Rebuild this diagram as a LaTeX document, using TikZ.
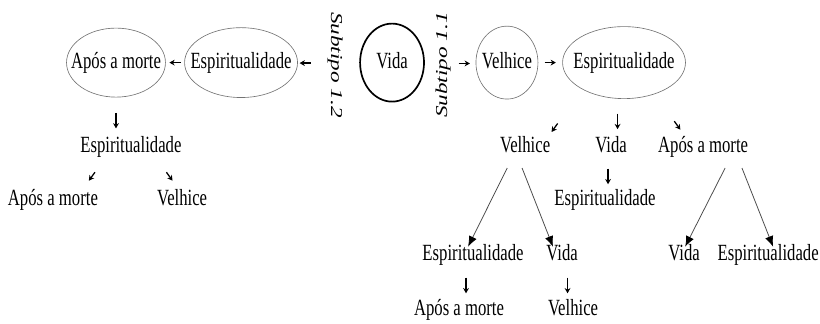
\documentclass[tikz,border=0pt]{standalone}
\usepackage{fontspec}
\setmainfont{Liberation Serif}
\usepackage{tikz}
\usetikzlibrary{shapes,arrows,arrows.meta,calc}
\tikzstyle{tsText} = [ 
    text=black, 
    font=\fontsize{22}{26}\selectfont,
    inner sep=1pt,
    text height=0.7em,
    text depth=0.22em
]
\tikzstyle{tsOval} = [ 
    ellipse,
    tsText,
    draw=black!55,
    line width=0.6pt,
    inner sep=0pt,
    text height=1.25em,
    text depth=0.2em
]
\tikzstyle{tsOvalBold} = [ 
    tsOval,
    draw=black,
    line width=1.6pt
]
\tikzstyle{tsSubtype} = [ 
    text=black, 
    font=\fontsize{22}{26}\selectfont\itshape
]
\tikzstyle{tsTick} = [ 
    -{Stealth[length=5pt,width=5.5pt]},
    line width=1.2pt
]
\tikzstyle{tsLong} = [ 
    -{Latex[length=10pt,width=8pt,black]},
    draw=black!70,
    line width=0.75pt
]
\newcommand{\inoval}[1]{\makebox[0pt]{#1}}
\newcommand{\tick}[3][0.26]{\draw[tsTick] (#2) ++(#3+180:#1) -- ++(#3:2*#1);}

\begin{document}
\begin{tikzpicture}[xscale=0.72, transform shape]

    \useasboundingbox (0,0) rectangle (37.963,10.767);

    % top row
    \node[  tsOval, 
            minimum width=4.58cm,
            minimum height=2.3cm] (apos) at (5.37,8.68) {\inoval{Após a morte}};
    \node[  tsOval, 
            minimum width=5.23cm,
            minimum height=2.33cm] (espL) at (11.16,8.68) {\inoval{Espiritualidade}};
    \node[tsSubtype, rotate=-90] (sub12) at (15.51,8.6) {Subtipo 1.2};
    \node[  tsOvalBold, 
            minimum width=2.96cm,
            minimum height=2.6cm] (vida) at (18.15,8.68) {\inoval{Vida}};
    \node[tsSubtype, rotate=90] (sub11) at (20.51,8.6) {Subtipo 1.1};
    \node[  tsOval, 
            minimum width=2.87cm,
            minimum height=2.43cm] (velL) at (23.47,8.68) {\inoval{Velhice}};
    \node[  tsOval, 
            minimum width=5.69cm,
            minimum height=2.4cm] (espR) at (28.89,8.68) {\inoval{Espiritualidade}};

    \tick{$(espL.west)!.5!(apos.east)$}{180}
    \tick{$(espL.east)!.2!(sub12)$}{180}
    \tick{$(sub11)!.65!(velL.west)$}{0}
    \tick{$(velL.east)!.5!(espR.west)$}{0}

    % subtype 1.2
    \node[tsText] (espL2) at (6.06,5.77) {Espiritualidade};
    \node[tsText] (aposL3) at (2.45,4.0) {Após a morte};
    \node[tsText] (velL3) at (8.43,4.0) {Velhice};

    \tick{$(apos.south)!.5!(apos.south|-espL2.north)$}{-90}
    \tick[0.2]{$(espL2.south)!.5!(aposL3.north)$}{-135}
    \tick[0.2]{$(espL2.south)!.5!(velL3.north east)$}{-45}

    % subtype 1.1
    \node[tsText] (vel2) at (24.31,5.77) {Velhice};
    \node[tsText] (vida2) at (28.29,5.77) {Vida};
    \node[tsText] (apos2) at (32.55,5.77) {Após a morte};
    \node[tsText] (esp3) at (28.01,4.0) {Espiritualidade};

    \node[tsText] (esp4) at (21.9,2.17) {Espiritualidade};
    \node[tsText] (vida4) at (26.02,2.17) {Vida};
    \node[tsText] (vida5) at (31.67,2.17) {Vida};
    \node[tsText] (esp5) at (35.56,2.17) {Espiritualidade};
    \node[tsText] (apos6) at (21.25,0.33) {Após a morte};
    \node[tsText] (vel6) at (26.53,0.33) {Velhice};

    \tick[0.2]{$(espR.-120)!.65!(vel2.north)$}{-135}
    \tick{$(espR.south)!.5!(vida2.north)$}{-90}
    \tick[0.2]{$(espR.-60)!.6!(apos2.north)$}{-45}
    \tick{$(vida2.south)!.5!(esp3.north)$}{-90}
    \tick{$(esp4.south)!.5!(apos6.north)$}{-90}
    \tick{$(vida4.south)!.5!(vel6.north)$}{-90}

    \draw[tsLong] ([xshift=-0.83cm, yshift=-0.4cm]vel2.south) -- ([xshift=-0.23cm, yshift=0.17cm]esp4.north);
    \draw[tsLong] ([xshift=-0.14cm, yshift=-0.4cm]vel2.south) -- ([xshift=-0.42cm, yshift=0.17cm]vida4.north);
    \draw[tsLong] ([xshift=1.02cm, yshift=-0.4cm]apos2.south) -- ([xshift=0.05cm, yshift=0.17cm]vida5.north);
    \draw[tsLong] ([xshift=1.8cm, yshift=-0.4cm]apos2.south) -- ([xshift=0.23cm, yshift=0.17cm]esp5.north);

\end{tikzpicture}
\end{document}
